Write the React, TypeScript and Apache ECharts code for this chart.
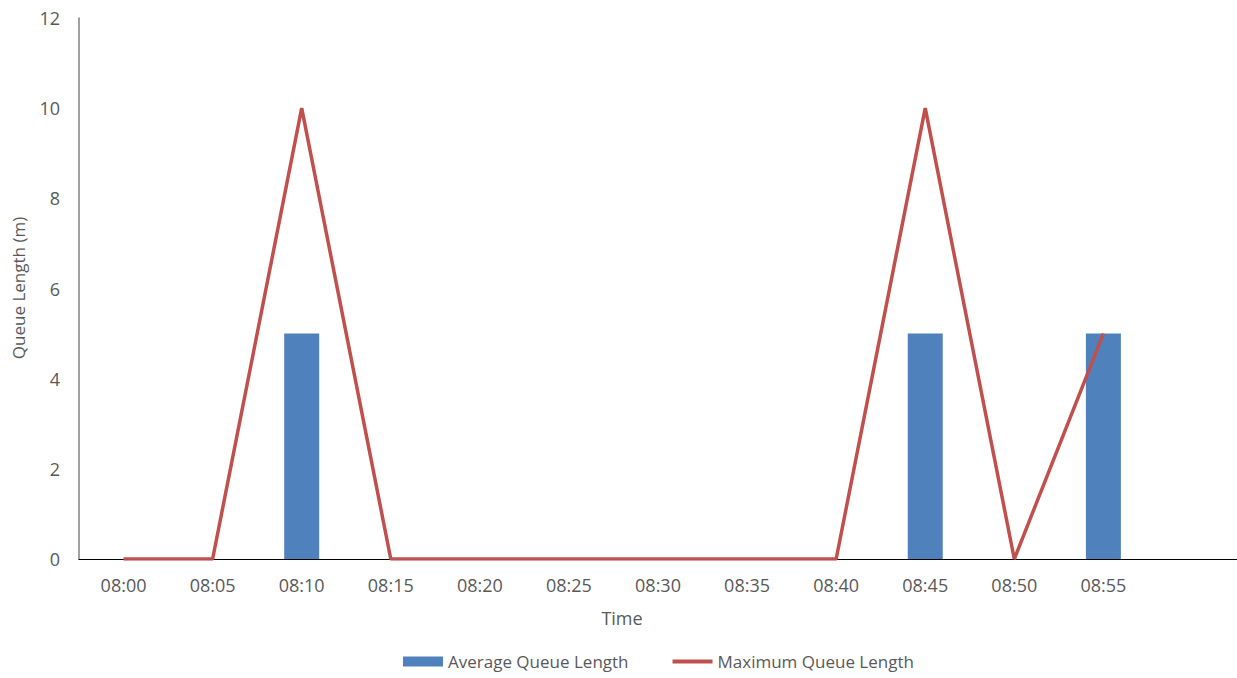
import React, { useEffect, useRef } from "react";
import * as echarts from "echarts";

const categories = ["08:00", "08:05", "08:10", "08:15", "08:20", "08:25", "08:30", "08:35", "08:40", "08:45", "08:50", "08:55", ""];
const averageQueue = [null, null, 5, null, null, null, null, null, null, 5, null, 5, null];
const maximumQueue = [0, 0, 10, 0, 0, 0, 0, 0, 0, 10, 0, 5, null];
const yTicks = { min: 0, max: 12, interval: 2 };

export default function App() {
  const ref = useRef<HTMLDivElement>(null);
  useEffect(() => {
    const chart = echarts.init(ref.current!, null, { renderer: "svg" });
    const font = "'Open Sans', 'Noto Sans', sans-serif";
    chart.setOption({
      animation: false,
      backgroundColor: "#ffffff",
      textStyle: { fontFamily: font },
      grid: { left: 79, right: 0, top: 18, bottom: 119, containLabel: false, outerBoundsMode: "none" },
      xAxis: {
        type: "category",
        data: categories,
        boundaryGap: true,
        axisLine: { lineStyle: { color: "#000000", width: 1.2 } },
        axisTick: { show: false },
        axisLabel: { color: "#595959", fontSize: 18, margin: 17, fontFamily: font, interval: 0 },
        splitLine: { show: false },
      },
      yAxis: {
        type: "value",
        min: yTicks.min,
        max: yTicks.max,
        interval: yTicks.interval,
        axisLine: { show: true, lineStyle: { color: "#808080", width: 1.5 } },
        axisTick: { show: false },
        axisLabel: { color: "#595959", fontSize: 18, margin: 19, fontFamily: font },
        splitLine: { show: false },
      },
      legend: {
        bottom: 3,
        left: 398,
        itemWidth: 40,
        itemHeight: 10,
        itemGap: 44,
        textStyle: { color: "#595959", fontSize: 17, fontFamily: font },
        data: [
          { name: "Average Queue Length", icon: "rect" },
          { name: "Maximum Queue Length", icon: "path://M0,0H40V4H0Z" },
        ],
      },
      graphic: [
        {
          type: "text",
          x: 622,
          y: 618,
          style: { text: "Time", fill: "#595959", font: `18px ${font}`, align: "center", verticalAlign: "middle" },
        },
        {
          type: "text",
          x: 18,
          y: 288,
          rotation: Math.PI / 2,
          style: { text: "Queue Length (m)", fill: "#595959", font: `17px ${font}`, align: "center", verticalAlign: "middle" },
        },
      ],
      series: [
        {
          name: "Average Queue Length",
          type: "bar",
          data: averageQueue,
          barWidth: 35,
          itemStyle: { color: "#4F81BD" },
        },
        {
          name: "Maximum Queue Length",
          type: "line",
          data: maximumQueue,
          symbol: "none",
          lineStyle: { color: "#C0504D", width: 3.5 },
          itemStyle: { color: "#C0504D" },
        },
      ],
    });
    return () => chart.dispose();
  }, []);
  return <div ref={ref} style={{ position: "fixed", left: 0, top: 0, width: 1237, height: 678 }} />;
}
